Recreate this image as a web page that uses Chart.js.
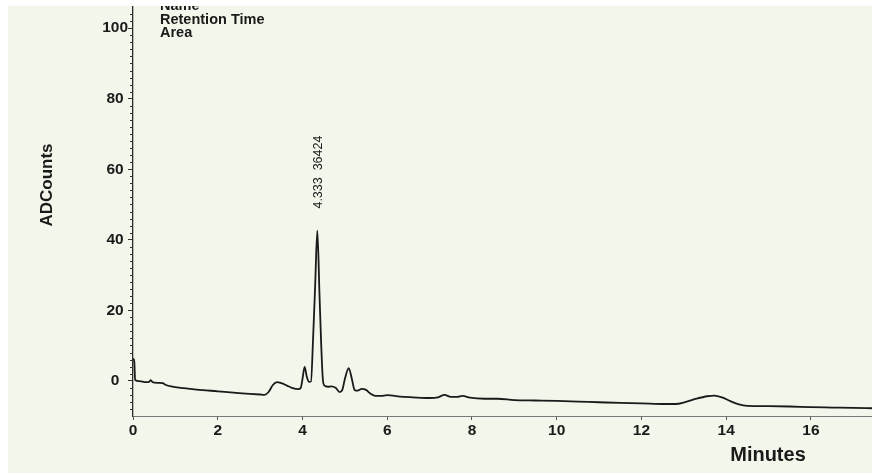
<!DOCTYPE html>
<html>
<head>
<meta charset="utf-8">
<script src="https://cdn.jsdelivr.net/npm/chart.js@4.4.1/dist/chart.umd.min.js"></script>
<style>
  html, body { margin: 0; padding: 0; background: #fff; }
  #wrap { width: 872px; height: 475px; }
</style>
</head>
<body>
<div id="wrap"><canvas id="chromCanvas" width="872" height="475"></canvas></div>
<script>
// retention time (min) and detector signal (ADCounts)
const minutes = [
  0.00, 0.03, 0.05, 0.15, 0.30, 0.38, 0.42, 0.46, 0.60, 0.70, 0.78, 0.90,
  1.20, 1.50, 2.00, 2.50, 3.00, 3.10, 3.20, 3.30, 3.40, 3.50, 3.62, 3.75,
  3.90, 3.96, 4.00, 4.05, 4.10, 4.15, 4.20, 4.25, 4.30, 4.35, 4.40, 4.44,
  4.48, 4.52, 4.60, 4.68, 4.78, 4.88, 4.94, 5.00, 5.09, 5.16, 5.23, 5.30,
  5.40, 5.50, 5.60, 5.72, 5.85, 6.00, 6.30, 6.60, 7.00, 7.20, 7.35, 7.50,
  7.65, 7.78, 7.95, 8.30, 8.60, 9.00, 9.50, 10.00, 10.50, 11.00, 11.50, 12.00,
  12.50, 12.80, 13.05, 13.30, 13.55, 13.72, 13.90, 14.10, 14.30, 14.50, 15.00, 15.50,
  16.00, 16.50, 17.00, 17.44
];
const adCounts = [
  6.3, 5.5, 0.2, -0.1, -0.4, -0.3, 0.2, -0.4, -0.6, -0.7, -1.2, -1.6,
  -2.1, -2.5, -3.0, -3.5, -3.9, -4.0, -3.2, -1.2, -0.4, -0.7, -1.3, -2.0,
  -2.4, -2.0, 0.5, 3.9, 1.2, -0.3, -0.2, 12.0, 27.4, 42.6, 24.9, 10.7,
  0.5, -1.4, -1.7, -1.6, -2.0, -3.2, -2.6, 0.5, 3.6, 0.8, -2.6, -2.8,
  -2.3, -2.6, -3.6, -4.3, -4.3, -4.1, -4.5, -4.7, -4.9, -4.7, -4.0, -4.6,
  -4.6, -4.3, -4.8, -5.1, -5.1, -5.5, -5.6, -5.7, -5.9, -6.1, -6.3, -6.4,
  -6.6, -6.6, -6.0, -5.1, -4.4, -4.2, -4.7, -5.8, -6.7, -7.1, -7.2, -7.3,
  -7.5, -7.6, -7.7, -7.8
];
const yLabelValues = [0, 20, 40, 60, 80, 100];
const xLabelValues = [0, 2, 4, 6, 8, 10, 12, 14, 16];
const headerLines = ['Name', 'Retention Time', 'Area'];
const peakText = '4.333  36424';

const fontFamily = '"Liberation Sans", Arial, sans-serif';
const ink = '#1a1a1a';

const paperPlugin = {
  id: 'paper',
  beforeDraw(chart) {
    const ctx = chart.ctx;
    ctx.save();
    ctx.fillStyle = '#ffffff';
    ctx.fillRect(0, 0, chart.width, chart.height);
    ctx.fillStyle = '#f2f6eb';
    ctx.fillRect(8, 6, chart.width - 8, chart.height - 8);
    ctx.restore();
  },
  afterDraw(chart) {
    const ctx = chart.ctx;
    const xs = chart.scales.x;
    const ys = chart.scales.y;
    ctx.save();

    // minor ticks on the y axis
    ctx.strokeStyle = '#333';
    ctx.lineWidth = 1;
    ys.ticks.forEach((t) => {
      if (yLabelValues.includes(t.value) || t.value <= ys.min || t.value >= ys.max) return;
      let py = Math.round(ys.getPixelForValue(t.value)) + 0.5;
      ctx.beginPath();
      ctx.moveTo(ys.right - 3, py);
      ctx.lineTo(ys.right, py);
      ctx.stroke();
    });

    ctx.fillStyle = ink;

    // header block
    ctx.font = 'bold 14.5px ' + fontFamily;
    ctx.textAlign = 'left';
    ctx.textBaseline = 'alphabetic';
    headerLines.forEach((line, i) => {
      ctx.fillText(line, 160, 10 + i * 13.5);
    });
    ctx.fillStyle = '#ffffff';
    ctx.fillRect(8, 0, chart.width - 8, 6);
    ctx.fillStyle = ink;

    // axis titles
    ctx.font = 'bold 17px ' + fontFamily;
    ctx.textAlign = 'center';
    ctx.textBaseline = 'middle';
    ctx.save();
    ctx.translate(47, 185);
    ctx.rotate(-Math.PI / 2);
    ctx.fillText('ADCounts', 0, 0);
    ctx.restore();

    ctx.font = 'bold 20px ' + fontFamily;
    ctx.fillText('Minutes', 768, 455);

    // peak annotation above the tallest peak
    let peakIdx = adCounts.indexOf(Math.max(...adCounts));
    let px = xs.getPixelForValue(minutes[peakIdx]);
    let py = ys.getPixelForValue(adCounts[peakIdx]);
    ctx.font = '12.5px ' + fontFamily;
    ctx.textAlign = 'left';
    ctx.save();
    ctx.translate(px + 1, py - 22);
    ctx.rotate(-Math.PI / 2);
    ctx.fillText(peakText, 0, 0);
    ctx.restore();

    ctx.restore();
  }
};

let context = document.getElementById('chromCanvas').getContext('2d');

new Chart(context, {
  type: 'line',
  data: {
    datasets: [{
      data: minutes.map((t, i) => ({ x: t, y: adCounts[i] })),
      borderColor: ink,
      borderWidth: 1.8,
      pointRadius: 0,
      cubicInterpolationMode: 'monotone',
      fill: false
    }]
  },
  options: {
    responsive: false,
    animation: false,
    devicePixelRatio: 1,
    layout: {
      padding: { left: 0, top: 6, right: 0, bottom: 0 }
    },
    plugins: {
      legend: { display: false },
      tooltip: { enabled: false }
    },
    scales: {
      x: {
        type: 'linear',
        min: 0,
        max: 17.44,
        afterBuildTicks(scale) {
          scale.ticks = xLabelValues.map((v) => ({ value: v }));
        },
        afterFit(scale) {
          scale.height = 59;
          scale.paddingLeft = 0;
          scale.paddingRight = 0;
        },
        border: { color: '#7a7a7a', width: 1 },
        grid: {
          drawOnChartArea: false,
          drawTicks: true,
          tickLength: 4,
          tickColor: '#555'
        },
        ticks: {
          autoSkip: false,
          maxRotation: 0,
          padding: 1,
          color: ink,
          font: { family: fontFamily, size: 15.5, weight: 'bold' },
          callback: (value) => String(value)
        }
      },
      y: {
        type: 'linear',
        min: -10,
        max: 106.3,
        afterFit(scale) {
          scale.width = 133;
          scale.paddingTop = 0;
          scale.paddingBottom = 0;
        },
        border: { color: '#2a2a2a', width: 1.3 },
        grid: {
          drawOnChartArea: false,
          drawTicks: true,
          tickLength: 5,
          tickColor: (c) => (c.tick && yLabelValues.includes(c.tick.value)) ? '#333' : 'rgba(0,0,0,0)'
        },
        ticks: {
          stepSize: 2,
          autoSkip: false,
          padding: 0,
          crossAlign: 'center',
          color: ink,
          font: { family: fontFamily, size: 15.5, weight: 'bold' },
          callback: (value) => yLabelValues.includes(value) ? String(value) : ''
        }
      }
    }
  },
  plugins: [paperPlugin]
});
</script>
</body>
</html>
